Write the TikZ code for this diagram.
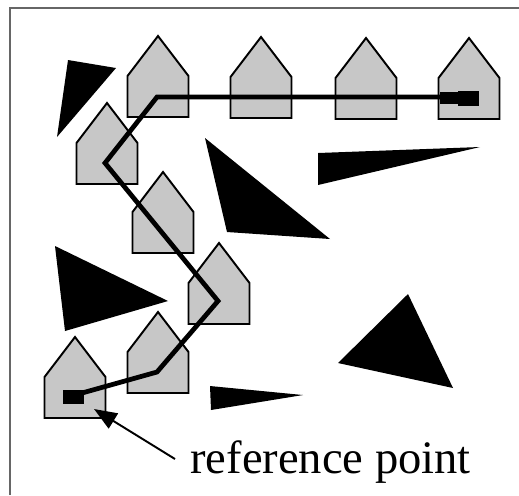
\documentclass[tikz,border=0pt]{standalone}
\usepackage{fontspec}
\newfontfamily\lblfont{Liberation Serif}
\usetikzlibrary{arrows.meta}
\newcommand\myhouse[2]{\draw[house] (#1-30.5,#2+40) -- (#1,#2) -- (#1+30.5,#2+40) -- (#1+30.5,#2+81) -- (#1-30.5,#2+81) -- cycle;}
\begin{document}
\begin{tikzpicture}[x=0.02cm,y=-0.02cm,
  house/.style={fill=black!22, draw=black, line width=1.1pt, line join=miter},
  obstacle/.style={fill=black},
  route/.style={line width=2.7pt, line join=miter},
  pointer/.style={line width=1.1pt, -{Triangle[length=13pt,width=10pt]}},
  frameline/.style={draw=black!60, line width=1.2pt}]
\useasboundingbox (0,0) rectangle (519,495);
\fill[white] (0,0) rectangle (519,495);
\draw[frameline] (10,495) -- (10,8) -- (519,8);
% houses
\myhouse{158}{36}
\myhouse{261}{37}
\myhouse{366}{38}
\myhouse{469}{38}
\myhouse{107}{103}
\myhouse{163}{172}
\myhouse{219}{243}
\myhouse{158}{312}
\myhouse{75}{337}
% obstacles
\fill[obstacle] (68,60) -- (116,68) -- (57,137) -- cycle;
\fill[obstacle] (205,138) -- (330,239) -- (227,232) -- cycle;
\fill[obstacle] (318,153) -- (480,147) -- (318,185) -- cycle;
\fill[obstacle] (55,246) -- (168,301) -- (65,331) -- cycle;
\fill[obstacle] (210,386) -- (303,395) -- (211,410) -- cycle;
\fill[obstacle] (408,294) -- (453,388) -- (338,363) -- cycle;
% route
\coordinate (p0) at (82,393);
\coordinate (p1) at (157,372);
\coordinate (p2) at (218,301);
\coordinate (p3) at (105,163);
\coordinate (p4) at (157,97);
\coordinate (p5) at (445,97);
\draw[route] (p0) -- (p1) -- (p2) -- (p3) -- (p4) -- (p5);
\fill (63,390) rectangle (84,404);
\fill (440,92) rectangle (459,104);
\fill (458,91) rectangle (479,106);
% label
\node[anchor=base west, inner sep=0pt, font=\lblfont\fontsize{26.5}{30}\selectfont] (lbl) at (190,473) {reference point};
\coordinate (tail) at (175,459);
\coordinate (tip) at (94,409);
\draw[pointer] (tail) -- (tip);
\end{tikzpicture}
\end{document}
